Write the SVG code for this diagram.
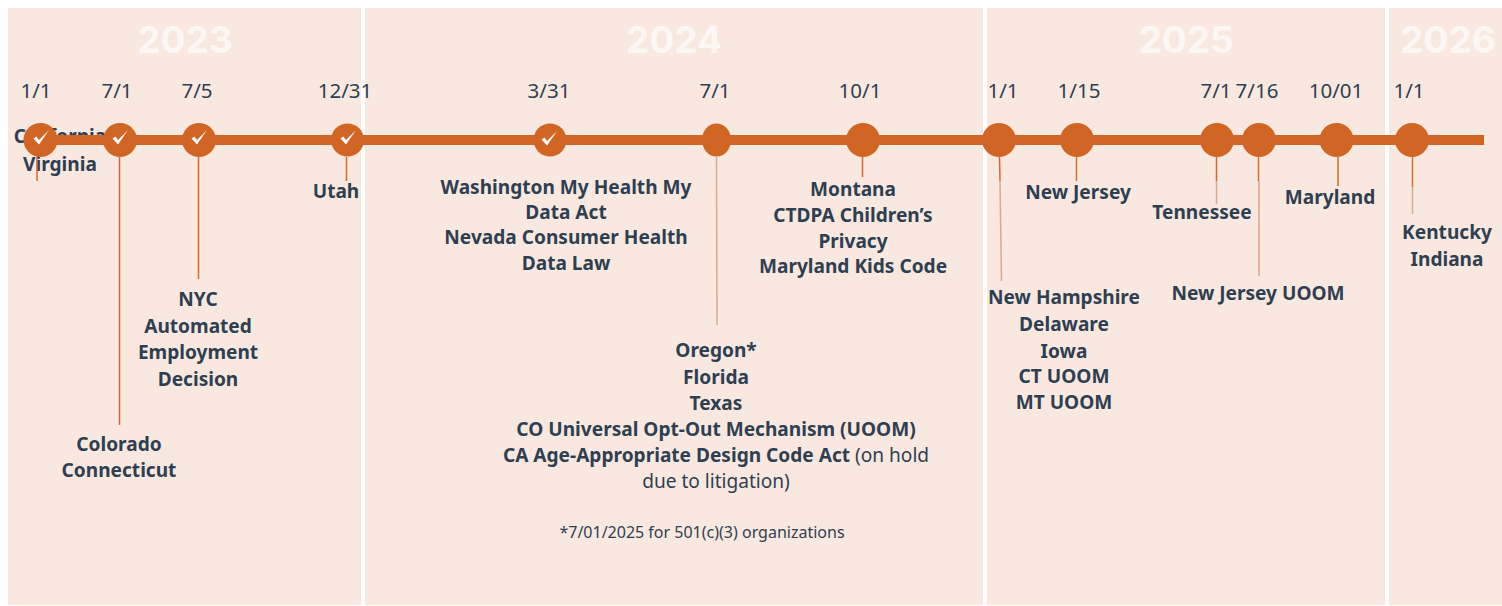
<svg xmlns="http://www.w3.org/2000/svg" width="1502" height="606" viewBox="0 0 1502 606">
<style>
.panel{fill:#f9e8e0}
.year{font:700 37px "Inter","Liberation Sans",sans-serif;fill:#fdf7f3;text-anchor:middle}
.date{font:400 20.500px "Noto Sans","Liberation Sans",sans-serif;fill:#2f3f52;text-anchor:middle}
.lbl{font:700 19.100px "Noto Sans","Liberation Sans",sans-serif;fill:#2f3f52;text-anchor:middle}
.reg{font-weight:400}
.note{font:400 16px "Noto Sans","Liberation Sans",sans-serif;fill:#2f3f52;text-anchor:middle}
.dot{fill:#d06524}
.ln{stroke:#d9692b;stroke-width:1.500;fill:none}
.pale{stroke:#dba98c;stroke-width:1.500;fill:none}
</style>
<defs>
<path id="chk" fill="#fff" d="M-7.500-1.500L-4.500-3.500L-2 0L8-10L-2 4.500Z"/>
</defs>
<rect width="1502" height="606" fill="#fff"/>
<g id="panels">
<rect class="panel" x="8" y="8" width="353" height="597"/>
<rect class="panel" x="365" y="8" width="618" height="597"/>
<rect class="panel" x="987" y="8" width="398" height="597"/>
<rect class="panel" x="1389" y="8" width="113" height="597"/>
<text class="year" x="185" y="53">2023</text>
<text class="year" x="674" y="53">2024</text>
<text class="year" x="1186" y="53">2025</text>
<text class="year" x="1448" y="53">2026</text>
</g>
<g id="labels-under">
<text class="lbl" x="60" y="143">California</text>
<text class="lbl" x="60" y="171">Virginia</text>
</g>
<g id="connectors">
<line x1="40" y1="140" x2="1484" y2="140" stroke="#d06524" stroke-width="10"/>
<line class="ln" x1="37" y1="157" x2="37" y2="181"/>
<line class="ln" x1="119.500" y1="157" x2="119.500" y2="425"/>
<line class="ln" x1="198.500" y1="157" x2="198.500" y2="279"/>
<line class="ln" x1="346.500" y1="157" x2="346.500" y2="181"/>
<line class="pale" x1="716.500" y1="157" x2="717" y2="325"/>
<line class="ln" x1="862.500" y1="157" x2="862.500" y2="177"/>
<line class="ln" x1="999.500" y1="157" x2="1000" y2="181"/>
<line class="pale" x1="1000" y1="181" x2="1001.500" y2="281"/>
<line class="ln" x1="1076.500" y1="157" x2="1076.500" y2="181"/>
<line class="ln" x1="1216.500" y1="157" x2="1216.500" y2="181"/>
<line class="pale" x1="1216.500" y1="181" x2="1216.500" y2="204"/>
<line class="ln" x1="1258.500" y1="157" x2="1258.500" y2="181"/>
<line class="pale" x1="1259" y1="181" x2="1259" y2="276"/>
<line class="ln" x1="1338" y1="157" x2="1338" y2="186"/>
<line class="ln" x1="1412.500" y1="157" x2="1412.500" y2="187"/>
<line class="pale" x1="1412.500" y1="187" x2="1412.500" y2="214"/>
</g>
<g id="n-2023-0101"><circle class="dot" cx="40.500" cy="140" r="17"/><use href="#chk" x="41" y="140"/><text class="date" x="36" y="98">1/1</text></g>
<g id="n-2023-0701"><circle class="dot" cx="120" cy="140" r="17"/><use href="#chk" x="120" y="140"/><text class="date" x="117" y="98">7/1</text><text class="lbl" x="119" y="451">Colorado</text><text class="lbl" x="119" y="477">Connecticut</text></g>
<g id="n-2023-0705"><circle class="dot" cx="199" cy="140" r="17"/><use href="#chk" x="199" y="140"/><text class="date" x="197" y="98">7/5</text><text class="lbl" x="198" y="306">NYC</text><text class="lbl" x="198" y="333">Automated</text><text class="lbl" x="198" y="359">Employment</text><text class="lbl" x="198" y="386">Decision</text></g>
<g id="n-2023-1231"><circle class="dot" cx="347.500" cy="140" r="16.500"/><use href="#chk" x="348" y="140"/><text class="date" x="345" y="98">12/31</text><text class="lbl" x="336" y="198">Utah</text></g>
<g id="n-2024-0331"><circle class="dot" cx="550" cy="140" r="16.500"/><use href="#chk" x="549" y="141"/><text class="date" x="549" y="98">3/31</text><text class="lbl" x="566" y="194">Washington My Health My</text><text class="lbl" x="566" y="219">Data Act</text><text class="lbl" x="566" y="244">Nevada Consumer Health</text><text class="lbl" x="566" y="270">Data Law</text></g>
<g id="n-2024-0701"><ellipse class="dot" cx="716.500" cy="140" rx="14.500" ry="16.500"/><text class="date" x="715" y="98">7/1</text><text class="lbl" x="716" y="357">Oregon*</text><text class="lbl" x="716" y="384">Florida</text><text class="lbl" x="716" y="410">Texas</text><text class="lbl" x="716" y="436">CO Universal Opt-Out Mechanism (UOOM)</text><text class="lbl" x="716" y="462">CA Age-Appropriate Design Code Act <tspan class="reg">(on hold</tspan></text><text class="lbl reg" x="716" y="488">due to litigation)</text><text class="note" x="702" y="538">*7/01/2025 for 501(c)(3) organizations</text></g>
<g id="n-2024-1001"><circle class="dot" cx="863" cy="140" r="17"/><text class="date" x="860" y="98">10/1</text><text class="lbl" x="853" y="196">Montana</text><text class="lbl" x="853" y="222">CTDPA Children’s</text><text class="lbl" x="853" y="248">Privacy</text><text class="lbl" x="853" y="273">Maryland Kids Code</text></g>
<g id="n-2025-0101"><circle class="dot" cx="999" cy="140" r="17"/><text class="date" x="1003" y="98">1/1</text><text class="lbl" x="1064" y="304">New Hampshire</text><text class="lbl" x="1064" y="331">Delaware</text><text class="lbl" x="1064" y="358">Iowa</text><text class="lbl" x="1064" y="383">CT UOOM</text><text class="lbl" x="1064" y="409">MT UOOM</text></g>
<g id="n-2025-0115"><circle class="dot" cx="1077" cy="140" r="17"/><text class="date" x="1079" y="98">1/15</text><text class="lbl" x="1078" y="199">New Jersey</text></g>
<g id="n-2025-0701"><circle class="dot" cx="1217" cy="140" r="17"/><text class="date" x="1216" y="98">7/1</text><text class="lbl" x="1202" y="219">Tennessee</text></g>
<g id="n-2025-0716"><circle class="dot" cx="1259" cy="140" r="17"/><text class="date" x="1257" y="98">7/16</text><text class="lbl" x="1258" y="300">New Jersey UOOM</text></g>
<g id="n-2025-1001"><circle class="dot" cx="1336.500" cy="140" r="17"/><text class="date" x="1336" y="98">10/01</text><text class="lbl" x="1330" y="204">Maryland</text></g>
<g id="n-2026-0101"><circle class="dot" cx="1412" cy="140" r="17"/><text class="date" x="1409" y="98">1/1</text><text class="lbl" x="1447" y="239">Kentucky</text><text class="lbl" x="1447" y="266">Indiana</text></g>
</svg>
